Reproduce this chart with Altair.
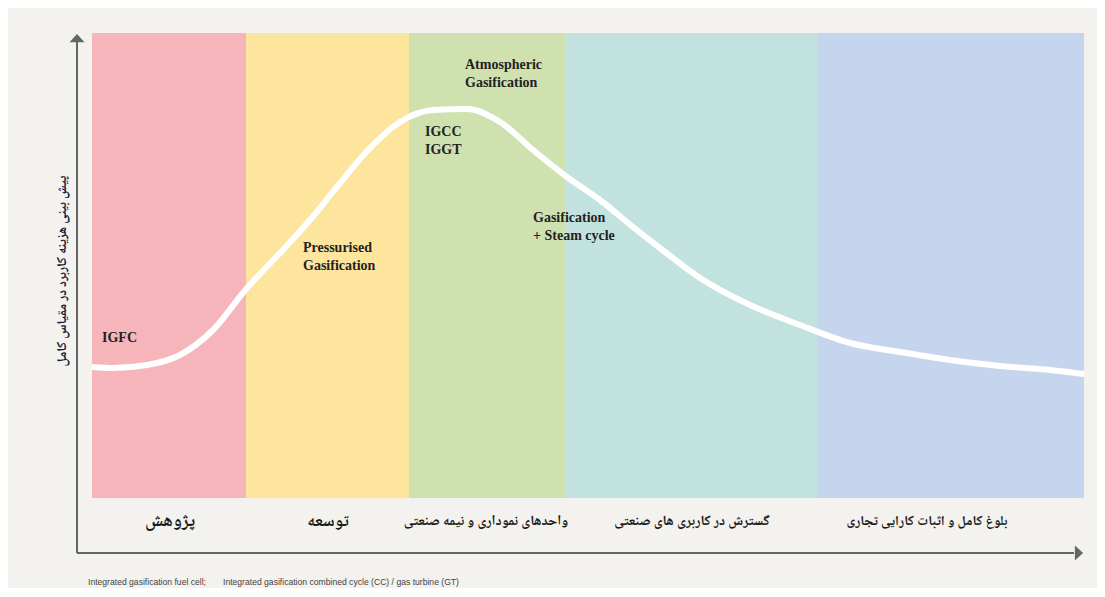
import altair as alt
import pandas as pd

# ---- data (x: 0..992 along the stages, y: 0..465 cost scale) ----
stage_labels = ["پژوهش", "توسعه", "واحدهای نموداری و نیمه صنعتی",
                "گسترش در کاربری های صنعتی", "بلوغ کامل و اثبات کارایی تجاری"]
stage_start = [0, 154, 317, 473, 726]
stage_end = [154, 317, 473, 726, 992]
stage_label_x = [78, 236, 394, 600, 835]
stage_label_size = [18, 17, 14, 14, 13.7]
stage_colors = ["#f5b5bb", "#fde59e", "#d0e1b0", "#c1e2de", "#c6d5ee"]

curve_x = [0, 21, 55, 88, 121, 155, 188, 218, 248, 278, 308, 341, 375, 408, 441,
           475, 508, 541, 573, 608, 658, 708, 758, 808, 858, 908, 958, 992]
curve_y = [131, 130, 133, 143, 168, 210, 245, 278, 315, 350, 376, 388, 389, 376, 348,
           321, 298, 271, 246, 220, 193, 173, 155, 146, 138, 132, 128, 124]

tech_labels = ["IGFC", "Pressurised", "Gasification", "Atmospheric", "Gasification",
               "IGCC", "IGGT", "Gasification", "+ Steam cycle"]
tech_x = [10, 211, 211, 373, 373, 333, 333, 441, 441]
tech_y = [160, 250, 232, 433, 415, 366, 348, 280, 262]

y_title = "پیش بینی هزینه کاربرد در مقیاس کامل"
footnotes = ["Integrated gasification fuel cell;",
             "Integrated gasification combined cycle (CC) / gas turbine (GT)"]
footnote_x = [-4, 131]

Y_TOP = 465
STAGE_LABEL_Y = -23
AXIS_Y = -55
FOOT_Y = -84

# ---- tables ----
bands = pd.DataFrame({"label": stage_labels, "x": stage_start, "x2": stage_end,
                      "y0": [0] * 5, "y1": [Y_TOP] * 5,
                      "lx": stage_label_x, "ly": [STAGE_LABEL_Y] * 5,
                      "size": stage_label_size})
curve = pd.DataFrame({"x": curve_x, "y": curve_y})
tech = pd.DataFrame({"label": tech_labels, "x": tech_x, "y": tech_y})
notes = pd.DataFrame({"label": footnotes, "x": footnote_x, "y": [FOOT_Y] * 2})

XS = alt.Scale(domain=[0, 992], nice=False, zero=False)
YS = alt.Scale(domain=[0, Y_TOP], nice=False, zero=False)


def X(f):
    return alt.X(f, type="quantitative", scale=XS, axis=None)


def Y(f):
    return alt.Y(f, type="quantitative", scale=YS, axis=None)


ARABIC_FONT = "Noto Naskh Arabic, Noto Sans Arabic, DejaVu Sans"

rects = alt.Chart(bands).mark_rect(opacity=1).encode(
    x=X("x"), x2="x2", y=Y("y0"), y2="y1",
    color=alt.Color("label:N", scale=alt.Scale(domain=stage_labels, range=stage_colors), legend=None),
)

line = alt.Chart(curve).mark_line(color="white", strokeWidth=6, interpolate="monotone").encode(
    x=X("x"), y=Y("y"),
)

tech_text = alt.Chart(tech).mark_text(
    font="Liberation Serif", fontWeight="bold", fontSize=14, align="left",
    baseline="middle", color="#222222"
).encode(x=X("x"), y=Y("y"), text="label:N")

stage_text = alt.Chart(bands).mark_text(
    font=ARABIC_FONT, fontWeight="bold", align="center", baseline="middle", color="#1a1a1a"
).encode(
    x=X("lx"), y=Y("ly"), text="label:N",
    size=alt.Size("size:Q", scale=None, legend=None),
)

axis_color = "#666666"
vline = alt.Chart(pd.DataFrame({"x": [-15], "y": [AXIS_Y], "y2": [457]})).mark_rule(
    color=axis_color, strokeWidth=2).encode(x=X("x"), y=Y("y"), y2="y2")
hline = alt.Chart(pd.DataFrame({"x": [-15], "x2": [982], "y": [AXIS_Y]})).mark_rule(
    color=axis_color, strokeWidth=2).encode(x=X("x"), x2="x2", y=Y("y"))

up_arrow = alt.Chart(pd.DataFrame({"x": [-15], "y": [460]})).mark_point(
    shape="M-1,0.55L0,-0.55L1,0.55Z", filled=True, size=225, color=axis_color, opacity=1).encode(
    x=X("x"), y=Y("y"))
right_arrow = alt.Chart(pd.DataFrame({"x": [987], "y": [AXIS_Y]})).mark_point(
    shape="M-0.55,-1L0.55,0L-0.55,1Z", filled=True, size=225, color=axis_color, opacity=1).encode(
    x=X("x"), y=Y("y"))

ytitle = alt.Chart(pd.DataFrame({"label": [y_title], "x": [-30], "y": [227]})).mark_text(
    font=ARABIC_FONT, fontWeight="bold", fontSize=13.5, angle=270, align="center",
    baseline="middle", color="#1a1f3c").encode(x=X("x"), y=Y("y"), text="label:N")

foot = alt.Chart(notes).mark_text(
    font="Liberation Sans", fontSize=8.6, align="left",
    baseline="middle", color="#444444").encode(x=X("x"), y=Y("y"), text="label:N")

chart = alt.layer(rects, line, tech_text, stage_text, vline, hline, up_arrow, right_arrow,
                  ytitle, foot).properties(
    width=992, height=465,
    autosize=alt.AutoSizeParams(type="none"),
    padding={"left": 84, "top": 25, "right": 13, "bottom": 90},
    background="#f3f2ee",
).configure_view(stroke=None)

chart.save("out.html", embed_options={"renderer": "svg", "actions": False})
